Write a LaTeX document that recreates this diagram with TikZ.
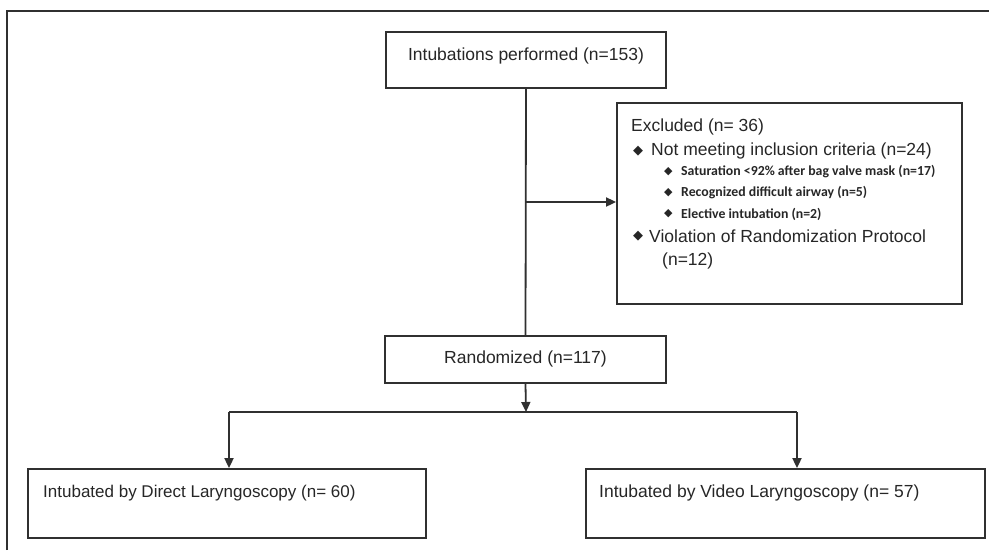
\documentclass[tikz,border=0pt]{standalone}
\usepackage{fontspec}
\setmainfont{Liberation Sans}
\newfontfamily\subfont{Carlito}
\newfontfamily\symfont{DejaVu Sans}
\usetikzlibrary{arrows.meta}
\definecolor{ink}{HTML}{303030}
\begin{document}
\begin{tikzpicture}[x=1pt,y=-1pt,
  box/.style={draw=ink,line width=1.8pt,rectangle,inner sep=0pt},
  lbl/.style={font=\fontsize{17.5}{20}\selectfont,text=black!85,inner sep=0pt},
  sub/.style={font=\subfont\bfseries\fontsize{13.8}{15}\selectfont,text=black!85,inner sep=0pt,anchor=west},
  bul/.style={anchor=west,inner sep=0pt,text=black!85,font=\symfont\fontsize{13}{15}\selectfont},
  sbul/.style={anchor=west,inner sep=0pt,text=black!85,font=\symfont\fontsize{11}{13}\selectfont},
  conn/.style={draw=ink,line width=1.8pt},
  arr/.style={conn,-{Triangle[length=10pt,width=9pt]}}]
\useasboundingbox (0,0) rectangle (989,550);
% outer frame (partly visible)
\draw[draw=ink,line width=1.2pt] (7,550) -- (7,11) -- (989,11);
% boxes
\node[box,minimum width=280pt,minimum height=56pt] (top) at (526,60) {};
\node[lbl] (toplbl) at (526,56) {Intubations performed (n=153)};
\node[box,minimum width=281pt,minimum height=47pt] (rand) at (525.5,359.5) {};
\node[lbl] (randlbl) at (525.5,359) {Randomized (n=117)};
\node[box,minimum width=345pt,minimum height=201pt] (excl) at (789.5,203.5) {};
\node[box,minimum width=398pt,minimum height=69pt] (dl) at (227,503.5) {};
\node[box,minimum width=399pt,minimum height=69pt] (vl) at (785.5,503.5) {};
\node[lbl,anchor=west,font=\fontsize{17}{20}\selectfont] (dllbl) at (43,493) {Intubated by Direct Laryngoscopy (n= 60)};
\node[lbl,anchor=west] (vllbl) at (599,493) {Intubated by Video Laryngoscopy (n= 57)};
% excluded text
\node[lbl,anchor=west] (ex0) at (631,127) {Excluded (n= 36)};
\node[bul] (b1) at (633,151) {◆};
\node[lbl,anchor=west] (ex1) at (651,151) {Not meeting inclusion criteria (n=24)};
\node[sbul] (b2) at (664,172) {◆};
\node[sub] (ex2) at (681,172) {Saturation <92\% after bag valve mask (n=17)};
\node[sbul] (b3) at (664,193) {◆};
\node[sub] (ex3) at (681,193) {Recognized difficult airway (n=5)};
\node[sbul] (b4) at (664,214) {◆};
\node[sub] (ex4) at (681,214) {Elective intubation (n=2)};
\node[bul] (b5) at (633,236) {◆};
\node[lbl,anchor=west] (ex5) at (649,236) {Violation of Randomization Protocol};
\node[lbl,anchor=west] (ex6) at (662,261) {(n=12)};
% connectors
\draw[conn] (top.south) -- (rand.north);
\coordinate (br) at (526,202);
\draw[arr] (br) -- (br -| excl.west);
\coordinate (split) at (526,412);
\draw[arr] (rand.south) -- (split);
\coordinate (la) at (229,412);
\coordinate (ra) at (797,412);
\draw[conn] (la) -- (ra);
\draw[arr] (la) -- (la |- dl.north);
\draw[arr] (ra) -- (ra |- vl.north);
\end{tikzpicture}
\end{document}
